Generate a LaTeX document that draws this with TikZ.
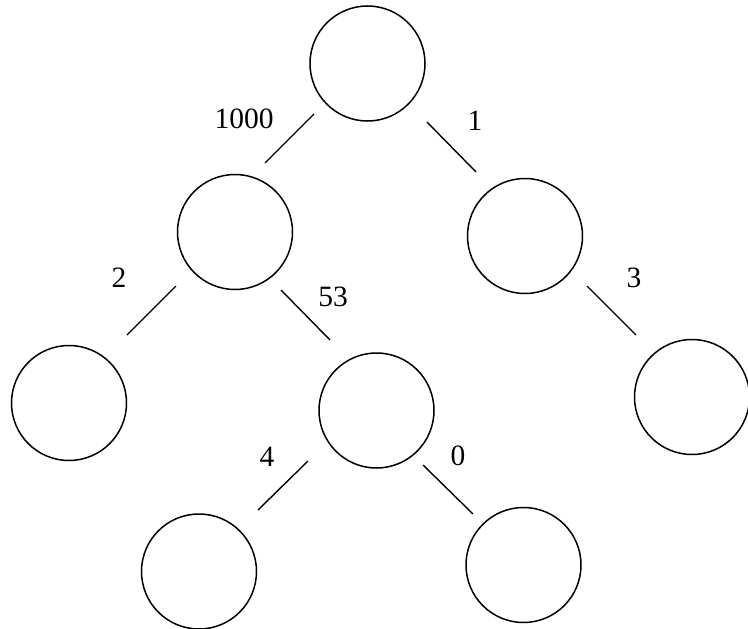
\documentclass[tikz,border=0pt]{standalone}
\usepackage{fontspec}
\setmainfont{Liberation Serif}
\begin{document}
\begin{tikzpicture}[x=1pt,y=-1pt,
  vertex/.style={circle,draw,line width=1.5pt,minimum size=115pt,inner sep=0pt},
  edge/.style={line width=1.4pt},
  weight/.style={font=\fontsize{29.5}{30}\selectfont,inner sep=0pt}]
\useasboundingbox (0,0) rectangle (748,629);
\node[vertex] (r) at (367.5,63.5) {};
\node[vertex] (a) at (235,232) {};
\node[vertex] (b) at (525,236) {};
\node[vertex] (aa) at (69,403) {};
\node[vertex] (ab) at (376.5,410.5) {};
\node[vertex] (bb) at (692,397) {};
\node[vertex] (aba) at (199,571.5) {};
\node[vertex] (abb) at (523.5,565) {};
\coordinate (e1s) at (314,114); \coordinate (e1t) at (265,163);
\coordinate (e2s) at (427,122); \coordinate (e2t) at (476,172);
\coordinate (e3s) at (176,286); \coordinate (e3t) at (127,335);
\coordinate (e4s) at (281,290); \coordinate (e4t) at (330,340);
\coordinate (e5s) at (587,286); \coordinate (e5t) at (636,335);
\coordinate (e6s) at (308,461); \coordinate (e6t) at (258,510);
\coordinate (e7s) at (423,465); \coordinate (e7t) at (473,514);
\draw[edge] (e1s) -- (e1t);
\draw[edge] (e2s) -- (e2t);
\draw[edge] (e3s) -- (e3t);
\draw[edge] (e4s) -- (e4t);
\draw[edge] (e5s) -- (e5t);
\draw[edge] (e6s) -- (e6t);
\draw[edge] (e7s) -- (e7t);
\node[weight] (w1) at (244,119) {1000};
\node[weight] (w2) at (475,121) {1};
\node[weight] (w3) at (119,278) {2};
\node[weight] (w4) at (333,297) {53};
\node[weight] (w5) at (634,278) {3};
\node[weight] (w6) at (267,457) {4};
\node[weight] (w7) at (458,456) {0};
\end{tikzpicture}
\end{document}
